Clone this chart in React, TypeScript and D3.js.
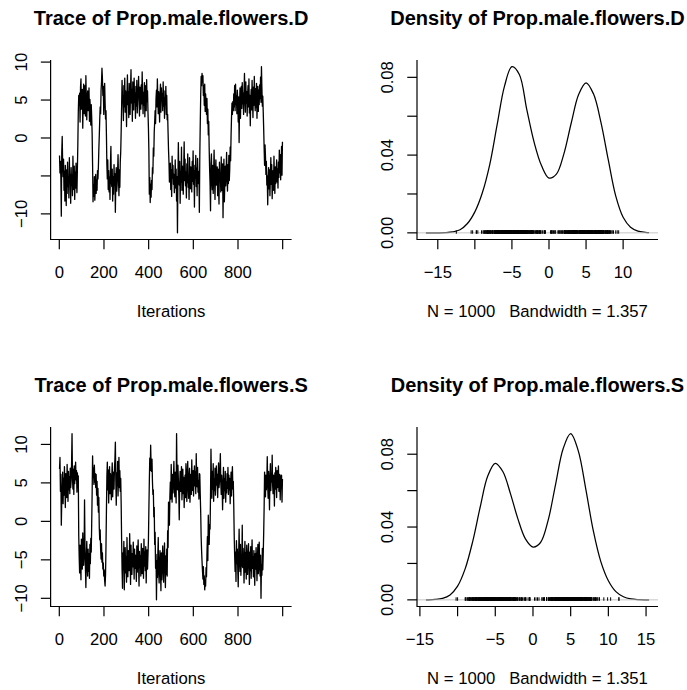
import React from "react";
import * as d3 from "d3";

// ---------- data ----------
const nIter = 1000;
const traceStep = 2; // one stored value per 2 iterations

const traceD = [
  -2.3, -4.6, -3.1, -5.2, -10.3, -1.9, 0.2, -3.4,
  -5.1, -2.8, -6.9, -4.4, -8.3, -3.6, -5.8, -8.9, -4.2, -7.3, -3.2, -6.4, -5.3, -7.9, -2.6, -5.7, -4.8, -8.6, -3.9, -6.2, -4.9, -7.6, -2.4, -5.5, -6.8, -3.7, -8.1, -4.5, -6.6, -3.3, -5.9, -7.2,
  -4.1, -0.8, 3.4, 5.6,
  4.3, 5.9, 2.1, 6.7, 7.8, 3.8, 5.2, 6.4, 1.3, 4.6, 7.1, 3.2, 5.8, 6.9, 2.9, 8.2, 4.9, 2.4, 5.3, 6.2, 3.6, 4.1, 6.6, 2.2, 5.1, 3.9, 1.7, 4.4, 2.8, 0.6,
  -3.5, -8.4, -6.2, -7.7, -5.1, -8.2, -6.6, -4.8, -7.3, -5.6, -6.9, -4.3, -5.4, -3.8,
  -1.5, 0.3, 2.4, 4.1, 3.2, 6.3, 7.4, 9.2, 7.9, 5.6,
  6.8, 3.1, 5.4, 7.2, 4.7, 2.5, 3.6, 0.4,
  -3.6, -5.4, -2.9, -6.8, -4.3, -7.1, -5.2, -8.1, -3.4, -1.1, -5.8, -6.4, -4.1, -8.3, -5.1, -7.4, -3.5, -6.2, -4.7, -9.8, -5.6, -3.9, -7.0, -6.1, -4.4, -2.2, -5.3, -7.6, -4.2, -6.5, -3.1, -1.8,
  0.9, 4.2, 7.6, 5.1,
  4.8, 2.3, 6.9, 4.1, 7.9, 3.4, 6.2, 5.3, 1.5, 5.7, 8.3, 4.4, 6.1, 2.7, 7.2, 5.0, 3.1, 6.6, 9.0, 4.6, 6.4, 2.2, 7.4, 5.6, 3.7, 7.9, 4.7, 5.9, 2.6, 6.8, 4.2, 7.6, 3.3, 5.4, 6.3, 8.1, 4.9, 2.9, 6.7, 5.2, 3.8, 7.0, 4.5, 8.7, 5.5, 3.2, 6.0, 4.3, 7.3, 2.8, 5.8, 6.9, 3.6, 7.7, 4.8, 6.2, 3.4, 1.4,
  -1.6, -7.4, -5.2, -8.5, -6.1, -7.8,
  -5.6, -6.8, -3.9, -4.7, -1.3, -2.4, 0.8, 2.1, 3.6, 1.9, 5.2, 6.3,
  4.1, 7.8, 5.4, 3.2, 6.1, 4.6, 2.1, 5.7, 7.1, 3.4, 6.6, 4.9, 5.8, 3.6, 7.4, 4.2, 6.2, 2.6, 5.3, 4.5, 6.8, 3.1, 5.6, 2.4,
  3.1, 0.7, -1.6, -3.2, -5.8, -4.1,
  -3.3, -6.8, -4.2, -7.7, -2.4, -5.3, -3.6, -6.1, -4.8, -7.2, -5.6, -2.9, -6.6, -4.1, -8.3, -5.1, -12.5,
  -5.4, -0.6, -4.7, -6.2, -3.1, -8.6, -4.4, -5.8, -1.2, -6.9, -3.7, -5.2, -7.4, -3.9, -0.5, -5.6, -2.8, -6.3, -4.5, -7.9, -3.4, -5.9, -2.1, -6.5, -4.9, -8.1, -2.6, -5.4, -6.7, -3.8, -4.6, -7.1, -3.1, -5.7, -1.7, -6.1, -4.3, -9.1, -3.6, -5.3, -2.3, -6.4, -4.0, -7.6, -2.7, -5.2, -6.0, -4.4, -9.8,
  -2.3, 1.8, 5.6, 8.1, 6.9, 8.5,
  7.4, 8.2, 5.6, 6.9, 4.3, 7.1, 3.5, 5.8, 4.6, 3.1, 5.2, 1.9, 3.8, 0.4, 2.2, -1.4,
  -4.2, -6.1, -9.6, -3.4, -2.1, -5.7, -6.8, -3.6, -7.3, -4.4, -1.6, -5.3, -8.1, -4.7, -2.9, -6.2, -5.1, -3.8, -7.6, -4.1, -6.4, -8.7, -3.2, -5.5, -4.6, -7.1, -2.5, -6.9, -5.2, -3.4, -10.5, -4.8, -2.8, -8.4, -5.9, -3.7, -6.3, -4.2, -1.9, -5.4, -7.0, -3.5, -6.0, -2.3, -5.6, -4.1, -1.2, -3.0,
  0.4, 2.7, 4.6, 3.1, 4.8, 3.6,
  5.8, 4.1, 6.9, 3.6, 7.1, 4.4, 5.5, 3.2, 6.3, 4.8, 2.1, 5.4, -0.6, 4.2, 6.6, 2.6, 5.1, 6.8, 3.9, 7.3, 4.5, 5.9, 3.1, 6.2, 8.5,
  5.2, 3.4, 7.4, 4.6, 6.1, 2.9, 5.7, 6.9, 4.1, 7.8, 3.3, 5.6, 1.6, 4.9, 6.4, 3.7, 7.6, 5.1, 2.7, 6.7, 4.3, 8.1, 5.3, 3.6, 6.5, 4.0, 7.2, 2.6, 5.9, 6.8, 3.5, 6.3, 4.4, 7.0, 5.2, 8.0, 4.7, 9.4, 6.6, 4.2, 5.5,
  3.4, 1.2, -1.3, -3.6, -0.9, -2.4, -4.8, -3.1, -6.2, -5.0,
  -8.8, -5.3, -3.9, -6.7, -4.2, -7.6, -5.1, -2.6, -6.1, -3.5, -8.0, -5.6, -4.3, -6.9, -2.4, -5.4, -7.3, -3.8, -6.0, -4.7, -2.9, -5.8, -4.1, -6.6, -3.2, -5.2, -1.6, -4.6, -2.2, -5.5, -3.7, -1.1, -4.9, -0.5,
];

const traceS = [
  6.8, 8.3, 3.9, 6.1, -0.5, 2.7, 4.2, 6.4,
  2.3, 5.6, 3.4, 7.1, 4.6, 1.8, 6.2, 4.9, 3.1, 7.4, 5.2, 2.6, 6.5, 4.1, 5.8, 3.6, 6.9, 4.4, 5.3, 7.6, 11.4, 5.7, 4.2, 6.8, 3.5, 7.2, 4.9, 6.1, 7.7, 5.4, 6.6, 3.8,
  6.3, 4.5, 5.9, -1.8, -4.6, -6.7,
  -3.1, -5.4, -7.6, -2.3, -4.8, -6.2, -1.5, -3.9, -5.7, -4.4, 2.8, -3.3, -6.1, -8.6, -4.7, -2.6, -5.8, -7.1, -3.6, -6.5, -4.2, -7.4, -3.0, -5.5, -2.2, -4.0,
  -0.4, 3.6, 8.5, 5.7, 6.9, 4.8, 7.3, 5.1, 6.2, 4.4,
  6.1, 3.4, 5.2, 2.1, 4.3, 1.2, 3.1, -0.8, -2.4, -1.1, -3.6, -4.9, -2.9, -5.3, -4.1, -6.2, -5.4, -7.1, -6.3, -7.7, -8.4, -6.9,
  -3.2, 1.4, 5.8, 7.7,
  4.1, 6.7, 2.4, 5.3, 7.1, 3.6, 6.2, 4.5, 2.8, 5.9, 7.6, 3.2, 5.1, 6.4, 4.2, 6.9, 8.1, 10.3, 5.4, 2.1, 6.3, 4.6, 7.8, 3.3, 5.7, 8.3, 4.4, 6.6, 3.9, 5.6,
  2.2, -2.4, -6.3, -8.7,
  -4.1, -6.3, -2.6, -8.9, -5.2, -3.4, -6.7, -4.6, -7.9, -2.1, -5.4, -7.2, -3.8, -5.1, -6.4, -1.6, -4.4, -8.2, -3.1, -5.6, -6.9, -4.2, -5.9, -2.7, -4.9, -7.5, -3.6, -6.1, -4.4, -5.3, -7.8, -3.2, -6.6, -4.8, -2.4, -5.7, -8.4, -3.9, -6.0, -4.5, -7.1, -2.9, -5.5, -6.8, -3.5, -4.7, -7.4, -2.3, -5.8, -4.0, -6.4, -3.3, -8.0, -5.0, -3.7, -6.2, -4.3, -2.5,
  1.5, 5.1, 8.2, 6.6, 9.9, 7.3, 6.5, 8.1,
  5.2, 3.5, 4.1, 0.6, 1.8, -3.0, -1.4, -6.1, -4.3, -10.2,
  -5.1, -7.3, -4.4, -2.1, -6.8, -8.0, -5.6, -3.8, -6.5, -9.0, -4.1, -7.6, -5.3, -3.2, -6.2, -7.9, -4.7, -2.8, -5.9, -8.6, -4.5, -6.9, -3.6, -7.1,
  -1.2, -3.4, 2.5, 0.4, -0.5, 3.2,
  5.1, 2.9, 7.4, 4.3, 2.5, 6.1, 3.7, 5.6, 7.8, 4.6, 3.2, 6.4, 5.3, 2.4, 11.4, 6.2, 4.1, 7.3, 5.5, 3.4, 0.2,
  4.8, 6.5, 3.9, 5.0, 7.1, 2.8, 4.5, 6.8, 3.6, 5.7, 1.8, 4.2, 6.0, 3.1, 7.5, 5.2, 2.6, 6.3, 7.8, 4.4, 3.0, 5.9, 6.9, 2.5, 4.7, 6.1, 3.5, 8.0, 5.4, 4.0, 6.6, 3.3, 5.8, 7.2, 4.6, 6.4, 3.6, 8.8, 5.6, 4.5, 7.0, 3.8, 5.3, 2.9, 6.2,
  6.1, 3.5, 1.2, -2.0, -3.8, -5.2, -6.4, -7.5, -5.9, -8.2, -7.1, -8.9,
  -7.6, -8.4, -6.0, -7.2, -4.3, -2.0, -5.1, 0.8, -1.6, -3.0, -0.4, -1.0, 3.5, 9.4,
  5.6, 3.0, 6.5, 4.2, 7.5, 2.6, 5.5, 4.0, 6.9, 3.4, 5.1, 7.2, 4.7, 6.1, 3.1, 5.8, 7.6, 4.4, 5.2, 6.6, 8.8,
  5.0, 3.5, 6.0, 4.6, 1.5, 4.5, 7.0, 3.0, 5.5, 4.0, 6.5, 2.5, 5.1, 3.7, 6.2, 4.3, 7.0, 3.5, 6.0, 4.1, 5.6, 2.3, 4.8, 6.4, 3.3, 5.8, 7.1, 4.2, 5.2,
  2.1, -1.8, -4.4, -6.5,
  -4.0, -7.8, -2.5, -5.5, -3.6, -6.3, -8.5, -4.4, -1.0, -5.0, -6.5, -3.0, -7.0, -4.5, -5.8, -0.5, -6.0, -3.5, -4.9, -8.0, -5.1, -2.6, -6.6, -4.1, -7.5, -3.1, -5.6, -6.9, -4.3, -2.9, -5.3, -8.2, -4.0, -6.4, -3.3, -7.4, -5.0, -2.4, -6.1, -4.6, -7.2, -3.8, -5.7, -8.3, -4.2, -6.2, -3.4, -5.4, -7.7, -4.8, -3.0, -6.8, -5.2, -2.7, -6.0, -7.1, -4.4, -10.0, -5.6, -7.0, -3.5, -6.3,
  -4.2, -1.5, 1.8, 6.4, 4.5, 3.2, 6.0, 4.1,
  5.2, 8.4, 4.6, 3.0, 6.5, 4.9, 1.5, 5.5, 7.5, 4.0, 6.2, 5.1, 8.6, 4.7, 3.6, 6.0, 5.4, 2.0, 6.3, 4.2, 7.0, 5.0, 3.1, 6.6, 4.4, 5.8, 7.2, 3.9, 5.6, 6.1, 2.8, 5.9, 4.3, 6.0, 2.5, 5.5,
];

const densDX = [-16.6, -16, -15, -14, -13, -12, -11, -10, -9, -8, -7, -6, -5, -4, -3, -2, -1, 0, 1, 2, 3, 4, 5, 6, 7, 8, 9, 10, 11, 12, 13, 13.5];
const densDY = [0.000002, 0.000005, 0.00003, 0.00013, 0.0005, 0.0016, 0.0048, 0.0108, 0.0205, 0.035, 0.0555, 0.0755, 0.0855, 0.0815, 0.0635, 0.0465, 0.0345, 0.0282, 0.0302, 0.0405, 0.0565, 0.0712, 0.0772, 0.0715, 0.057, 0.0375, 0.019, 0.008, 0.0029, 0.0009, 0.0003, 0.00015];

const densSX = [-14.2, -14, -13, -12, -11, -10, -9, -8, -7, -6, -5, -4, -3, -2, -1, 0, 1, 2, 3, 4, 5, 6, 7, 8, 9, 10, 11, 12, 13, 14, 15, 15.4];
const densSY = [0.00003, 0.00004, 0.0002, 0.0008, 0.0027, 0.0075, 0.017, 0.032, 0.051, 0.068, 0.075, 0.0705, 0.0585, 0.0445, 0.0335, 0.029, 0.0315, 0.0435, 0.0635, 0.083, 0.0913, 0.082, 0.061, 0.038, 0.021, 0.0105, 0.0045, 0.0017, 0.0005, 0.00012, 0.00002, 0.00001];

const bandwidthD = "1.357";
const bandwidthS = "1.351";

const traceXTicks = [0, 200, 400, 600, 800, 1000];
const traceXLabels = ["0", "200", "400", "600", "800", ""];
const traceYTicks = [-10, -5, 0, 5, 10];
const traceDYLabels = ["\u221210", "", "0", "5", "10"];
const traceSYLabels = ["\u221210", "\u22125", "0", "5", "10"];
const densYTicks = [0, 0.02, 0.04, 0.06, 0.08];
const densYLabels = ["0.00", "", "0.04", "", "0.08"];
const densDXTicks = [-15, -10, -5, 0, 5, 10];
const densDXLabels = ["\u221215", "", "\u22125", "0", "5", "10"];
const densSXTicks = [-15, -10, -5, 0, 5, 10, 15];
const densSXLabels = ["\u221215", "", "\u22125", "0", "5", "10", "15"];

const variableNames = ["Prop.male.flowers.D", "Prop.male.flowers.S"];

// ---------- layout ----------
const W = 687;
const H = 690;
const COL_X = [50.6, 417];
const PLOT_W = 241;
const ROW_Y = [60, 427];
const PLOT_H = 179.5;
const FONT = "'Liberation Sans', Arial, Helvetica, sans-serif";
const TICK = 9.75;

const pad = (ext: [number, number]): [number, number] => {
  const r = ext[1] - ext[0];
  return [ext[0] - 0.04 * r, ext[1] + 0.04 * r];
};

type AxisProps = {
  x0: number; x1: number; y0: number; y1: number;
  xScale: d3.ScaleLinear<number, number>;
  yScale: d3.ScaleLinear<number, number>;
  xTicks: number[]; xLabels: string[];
  yTicks: number[]; yLabels: string[];
  title: string; xTitle: string;
};

function Frame(p: AxisProps) {
  const cx = (p.x0 + p.x1) / 2;
  return (
    <g>
      <path d={`M${p.x0},${p.y0}V${p.y1}H${p.x1}`} fill="none" stroke="#000" strokeWidth={1.2} />
      {p.xTicks.map((t, i) => (
        <g key={"xt" + i}>
          <line x1={p.xScale(t)} x2={p.xScale(t)} y1={p.y1} y2={p.y1 + TICK} stroke="#000" strokeWidth={1.2} />
          {p.xLabels[i] ? (
            <text x={p.xScale(t)} y={p.y1 + 38.8} textAnchor="middle" fontSize={16.7} fontFamily={FONT}>
              {p.xLabels[i]}
            </text>
          ) : null}
        </g>
      ))}
      {p.yTicks.map((t, i) => (
        <g key={"yt" + i}>
          <line x1={p.x0 - TICK} x2={p.x0} y1={p.yScale(t)} y2={p.yScale(t)} stroke="#000" strokeWidth={1.2} />
          {p.yLabels[i] ? (
            <text
              transform={`translate(${p.x0 - 24},${p.yScale(t)}) rotate(-90)`}
              textAnchor="middle"
              fontSize={16.7}
              fontFamily={FONT}
            >
              {p.yLabels[i]}
            </text>
          ) : null}
        </g>
      ))}
      <text x={cx} y={p.y0 - 35.3} textAnchor="middle" fontSize={20} fontWeight="bold" fontFamily={FONT}>
        {p.title}
      </text>
      <text x={cx} y={p.y1 + 77.5} textAnchor="middle" fontSize={16.7} fontFamily={FONT} style={{ whiteSpace: "pre" }}>
        {p.xTitle}
      </text>
    </g>
  );
}

function TracePanel({ col, row, values, name, yLabels }: { col: number; row: number; values: number[]; name: string; yLabels: string[] }) {
  const x0 = COL_X[col], x1 = x0 + PLOT_W, y0 = ROW_Y[row], y1 = y0 + PLOT_H;
  const iters = values.map((_, i) => 1 + i * traceStep);
  const xScale = d3.scaleLinear().domain(pad([1, nIter])).range([x0, x1]);
  const yScale = d3.scaleLinear().domain(pad(d3.extent(values) as [number, number])).range([y1, y0]);
  const line = d3.line<number>().x((_, i) => xScale(iters[i])).y((v) => yScale(v));
  return (
    <g>
      <path d={line(values) || ""} fill="none" stroke="#000" strokeWidth={1.3} strokeLinejoin="round" />
      <Frame
        x0={x0} x1={x1} y0={y0} y1={y1}
        xScale={xScale} yScale={yScale}
        xTicks={traceXTicks} xLabels={traceXLabels}
        yTicks={traceYTicks} yLabels={yLabels}
        title={`Trace of ${name}`} xTitle="Iterations"
      />
    </g>
  );
}

function DensityPanel({ col, row, xs, ys, obs, name, bw, xTicks, xLabels }: {
  col: number; row: number; xs: number[]; ys: number[]; obs: number[]; name: string; bw: string; xTicks: number[]; xLabels: string[];
}) {
  const x0 = COL_X[col], x1 = x0 + PLOT_W, y0 = ROW_Y[row], y1 = y0 + PLOT_H;
  const maxY = d3.max(ys) as number;
  const xScale = d3.scaleLinear().domain(pad(d3.extent(xs) as [number, number])).range([x0, x1]);
  const yScale = d3.scaleLinear().domain(pad([0, maxY])).range([y1, y0]);
  const pts = xs.map((x, i) => [x, ys[i]] as [number, number]);
  const line = d3.line<[number, number]>().x((d) => xScale(d[0])).y((d) => yScale(d[1])).curve(d3.curveCatmullRom.alpha(0.5));
  const rugTop = yScale(maxY / 100);
  const rugBase = yScale(0);
  return (
    <g>
      <path d={line(pts) || ""} fill="none" stroke="#000" strokeWidth={1.25} />
      <line x1={x0} x2={x1} y1={rugBase} y2={rugBase} stroke="#bebebe" strokeWidth={0.9} />
      {obs.map((v, i) => (
        <line key={i} x1={xScale(v)} x2={xScale(v)} y1={rugBase + 0.9} y2={rugTop - 0.9} stroke="#000" strokeWidth={1} />
      ))}
      <Frame
        x0={x0} x1={x1} y0={y0} y1={y1}
        xScale={xScale} yScale={yScale}
        xTicks={xTicks} xLabels={xLabels}
        yTicks={densYTicks} yLabels={densYLabels}
        title={`Density of ${name}`} xTitle={`N = ${nIter}   Bandwidth = ${bw}`}
      />
    </g>
  );
}

export default function App() {
  return (
    <svg width={W} height={H} viewBox={`0 0 ${W} ${H}`} style={{ position: "absolute", left: 0, top: 0, background: "#fff" }}>
      <rect x={0} y={0} width={W} height={H} fill="#fff" />
      <TracePanel col={0} row={0} values={traceD} name={variableNames[0]} yLabels={traceDYLabels} />
      <DensityPanel col={1} row={0} xs={densDX} ys={densDY} obs={traceD} name={variableNames[0]} bw={bandwidthD} xTicks={densDXTicks} xLabels={densDXLabels} />
      <TracePanel col={0} row={1} values={traceS} name={variableNames[1]} yLabels={traceSYLabels} />
      <DensityPanel col={1} row={1} xs={densSX} ys={densSY} obs={traceS} name={variableNames[1]} bw={bandwidthS} xTicks={densSXTicks} xLabels={densSXLabels} />
    </svg>
  );
}
